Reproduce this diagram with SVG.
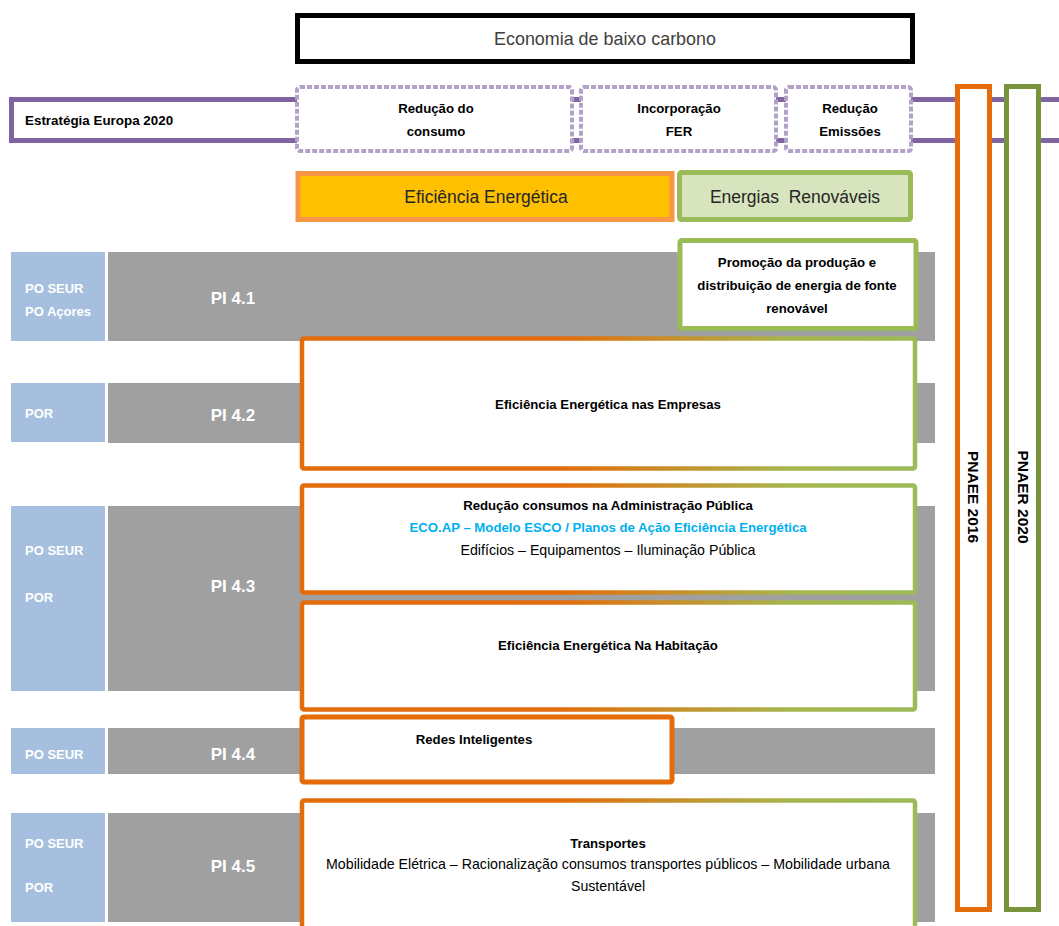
<svg xmlns="http://www.w3.org/2000/svg" width="1059" height="926" viewBox="0 0 1059 926">
<style>
text{font-family:"Liberation Sans",Arial,sans-serif;}
.b{font-weight:bold;}
.c{text-anchor:middle;}
.po{fill:#A7BFDE;}
.pi{fill:#A0A0A0;}
.wt{fill:#FFFFFF;font-weight:bold;font-size:13px;}
.pit{fill:#FFFFFF;font-weight:bold;font-size:17px;text-anchor:middle;}
.dash{fill:#FFFFFF;stroke:#B3A2C7;stroke-width:4;stroke-dasharray:5 2;}
.gb{fill:#FFFFFF;stroke:url(#og);stroke-width:4.5;}
.t13{font-size:13.2px;font-weight:bold;fill:#000;text-anchor:middle;}
.t14{font-size:14.2px;fill:#000;text-anchor:middle;}
.vt{font-weight:bold;font-size:15.5px;fill:#000;text-anchor:middle;}
</style>
<defs>
<linearGradient id="og" x1="0" y1="0" x2="1" y2="0">
<stop offset="0" stop-color="#E46C0A"/>
<stop offset="0.42" stop-color="#E46C0A"/>
<stop offset="0.8" stop-color="#A6B64E"/>
<stop offset="1" stop-color="#9BBB59"/>
</linearGradient>
</defs>
<rect width="1059" height="926" fill="#FFFFFF"/>

<g id="economia">
<rect x="297.5" y="15.5" width="615" height="46" fill="#FFFFFF" stroke="#000000" stroke-width="5"/>
<text x="605" y="45" class="c" font-size="17.9" fill="#404040">Economia de baixo carbono</text>
</g>

<g id="estrategia">
<rect x="11.5" y="99.5" width="1060" height="41" fill="#FFFFFF" stroke="#8064A2" stroke-width="5"/>
<text x="25" y="125" class="b" font-size="13.4" fill="#000">Estratégia Europa 2020</text>
</g>

<g id="reducao-consumo">
<rect x="297" y="87" width="275" height="64" rx="3" class="dash"/>
<text x="436" y="113" class="t13">Redução do</text>
<text x="436" y="136" class="t13">consumo</text>
</g>
<g id="incorporacao">
<rect x="581" y="87" width="195" height="64" rx="3" class="dash"/>
<text x="679" y="113" class="t13">Incorporação</text>
<text x="679" y="136" class="t13">FER</text>
</g>
<g id="reducao-emissoes">
<rect x="786" y="87" width="125" height="64" rx="3" class="dash"/>
<text x="850" y="113" class="t13">Redução</text>
<text x="850" y="136" class="t13">Emissões</text>
</g>

<g id="pnaee">
<rect x="957.5" y="86.5" width="32" height="823" fill="#FFFFFF" stroke="#E46C0A" stroke-width="5"/>
<text transform="translate(967.5,497) rotate(90)" class="vt">PNAEE 2016</text>
</g>
<g id="pnaer">
<rect x="1006.5" y="86.5" width="32" height="823" fill="#FFFFFF" stroke="#77933C" stroke-width="5"/>
<text transform="translate(1017.5,497) rotate(90)" class="vt">PNAER 2020</text>
</g>

<g id="eficiencia">
<rect x="298" y="173.5" width="374" height="46" fill="#FFC000" stroke="#F79646" stroke-width="5"/>
<text x="486" y="203" class="c" font-size="17.5" fill="#262626">Eficiência Energética</text>
</g>
<g id="renovaveis">
<rect x="679.5" y="172.5" width="231" height="47" rx="2" fill="#D7E4BD" stroke="#9BBB59" stroke-width="5"/>
<text x="795" y="203" class="c" font-size="17.5" fill="#262626" xml:space="preserve">Energias  Renováveis</text>
</g>

<g id="row-pi41">
<rect x="11" y="252" width="94" height="89" class="po"/>
<rect x="108" y="252" width="827" height="89" class="pi"/>
<text x="25" y="293" class="wt">PO SEUR</text>
<text x="25" y="316" class="wt">PO Açores</text>
<text x="233" y="304" class="pit">PI 4.1</text>
</g>
<g id="row-pi42">
<rect x="11" y="383" width="94" height="59" class="po"/>
<rect x="108" y="383" width="827" height="60" class="pi"/>
<text x="25" y="418" class="wt">POR</text>
<text x="233" y="421" class="pit">PI 4.2</text>
</g>
<g id="row-pi43">
<rect x="11" y="506" width="94" height="185" class="po"/>
<rect x="108" y="506" width="827" height="185" class="pi"/>
<text x="25" y="555" class="wt">PO SEUR</text>
<text x="25" y="602" class="wt">POR</text>
<text x="233" y="592" class="pit">PI 4.3</text>
</g>
<g id="row-pi44">
<rect x="11" y="728" width="94" height="46" class="po"/>
<rect x="108" y="728" width="827" height="46" class="pi"/>
<text x="25" y="759" class="wt">PO SEUR</text>
<text x="233" y="760" class="pit">PI 4.4</text>
</g>
<g id="row-pi45">
<rect x="11" y="813" width="94" height="109" class="po"/>
<rect x="108" y="813" width="827" height="109" class="pi"/>
<text x="25" y="848" class="wt">PO SEUR</text>
<text x="25" y="892" class="wt">POR</text>
<text x="233" y="872" class="pit">PI 4.5</text>
</g>

<g id="promocao">
<rect x="680" y="240.5" width="236" height="88" rx="2" fill="#FFFFFF" stroke="#9BBB59" stroke-width="5"/>
<text x="797" y="267" class="t13">Promoção da produção e</text>
<text x="797" y="290" class="t13">distribuição de energia de fonte</text>
<text x="797" y="313" class="t13">renovável</text>
</g>
<g id="empresas">
<rect x="302" y="338.5" width="613" height="130" rx="2" class="gb"/>
<text x="608" y="409" class="t13">Eficiência Energética nas Empresas</text>
</g>
<g id="administracao">
<rect x="302" y="485.5" width="613" height="107" rx="2" class="gb"/>
<text x="608" y="510" class="t13">Redução consumos na Administração Pública</text>
<text x="608" y="532" class="t13" style="fill:#00B0F0">ECO.AP – Modelo ESCO / Planos de Ação Eficiência Energética</text>
<text x="608" y="555" class="t14">Edifícios – Equipamentos – Iluminação Pública</text>
</g>
<g id="habitacao">
<rect x="302" y="602.5" width="613" height="107" rx="2" class="gb"/>
<text x="608" y="650" class="t13">Eficiência Energética Na Habitação</text>
</g>
<g id="redes">
<rect x="302" y="717" width="370" height="65" rx="2" fill="#FFFFFF" stroke="#E46C0A" stroke-width="5"/>
<text x="474" y="744" class="t13">Redes Inteligentes</text>
</g>
<g id="transportes">
<rect x="302" y="800.5" width="613" height="140" rx="2" class="gb"/>
<text x="608" y="848" class="t13">Transportes</text>
<text x="608" y="869" class="t14">Mobilidade Elétrica – Racionalização consumos transportes públicos – Mobilidade urbana</text>
<text x="608" y="891" class="t14">Sustentável</text>
</g>
<g id="connectors"></g>
</svg>
